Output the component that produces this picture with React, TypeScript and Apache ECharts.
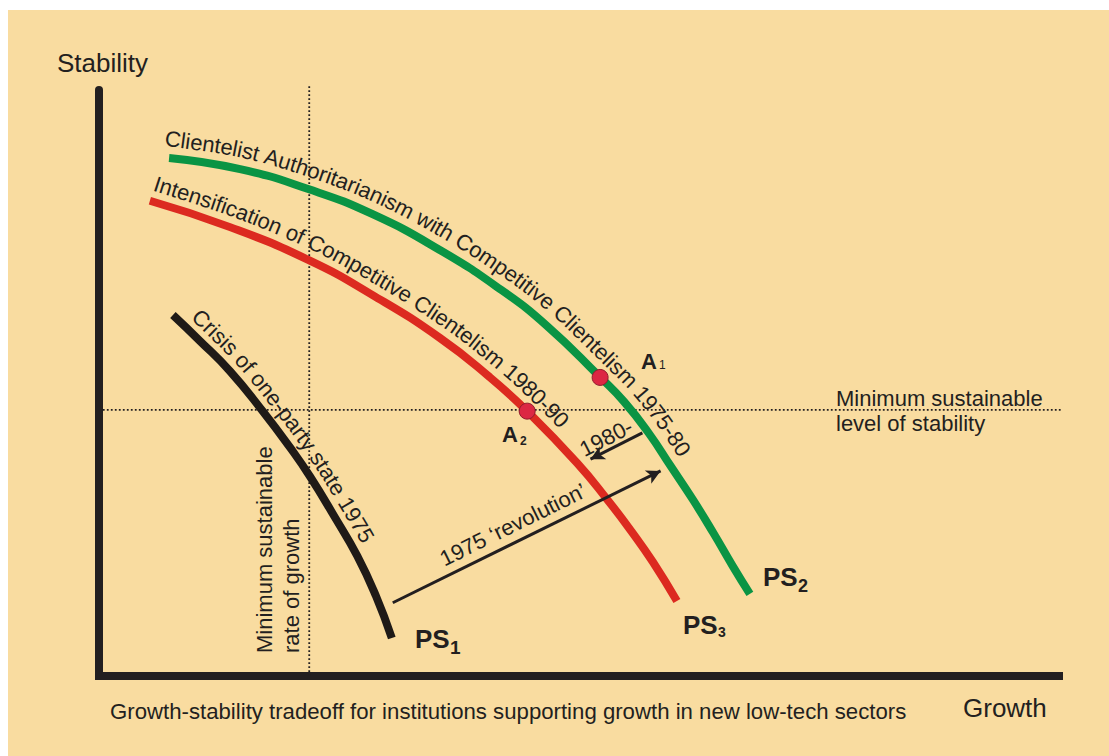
import React, { useEffect, useRef } from "react";
import * as echarts from "echarts";

// ---------- data (axis units: growth 0..100, stability 0..100) ----------
const ps2Curve: number[][] = [
  [7.3, 88.4], [14.7, 86.5], [21.8, 83.1], [28.5, 78.8], [35.5, 72.7], [41.8, 66.0],
  [46.7, 59.7], [52.2, 51.0], [54.7, 46.8], [57.2, 41.6], [59.6, 35.7], [61.9, 30.0],
  [64.0, 24.4], [66.0, 18.8], [67.8, 14.0],
];
const ps3Curve: number[][] = [
  [5.3, 81.1], [13.65, 76.6], [21.8, 71.0], [28.5, 65.0], [35.5, 57.7], [40.7, 51.0],
  [44.6, 45.2], [49.8, 36.35], [53.0, 30.0], [55.5, 24.6], [57.7, 19.45], [60.2, 12.8],
];
const ps1Curve: number[][] = [
  [7.7, 61.6], [10.5, 57.2], [13.65, 52.0], [17.1, 45.1], [19.9, 39.0], [22.0, 34.0],
  [24.6, 27.0], [26.9, 20.5], [28.85, 13.65], [30.5, 6.5],
];
const equilibriumPoints: number[][] = [[52.2, 50.95], [44.6, 45.2]];
const minGrowthRate = 21.9;
const minGrowthSpan = [0, 100.9];
const minStability = 45.4;
const minStabilitySpan = [0.4, 100.9];
const revolutionArrow: number[][] = [[30.6, 12.5], [58.5, 35.0]];
const shiftArrow: number[][] = [[56.6, 41.5], [51.2, 37.0]];

const curveTitles = [
  "Clientelist Authoritarianism with Competitive Clientelism 1975-80",
  "Intensification of Competitive Clientelism 1980-90",
  "Crisis of one-party state 1975",
];
const arrowLabels = ["1975 \u2018revolution\u2019", "1980-"];

// ---------- styles ----------
const INK = "#231f20";
const BG = "#f9dca0";
const GREEN = "#0a9444";
const RED = "#dc2a20";
const BLACK = "#1f1a17";
const FONT = '"Liberation Sans", Arial, Helvetica, sans-serif';

const curveTitleLayout = [
  { offset: 19, start: -7, size: 22 },
  { offset: 18, start: -1, size: 22 },
  { offset: 17, start: 15, size: 22 },
];

function densify(pts: number[][]) {
  const out: number[][] = [];
  const n = pts.length;
  const steps = 24;
  for (let i = 0; i < n - 1; i++) {
    const p0 = pts[Math.max(0, i - 1)];
    const p1 = pts[i];
    const p2 = pts[i + 1];
    const p3 = pts[Math.min(n - 1, i + 2)];
    for (let k = 0; k < steps; k++) {
      const t = k / steps;
      const t2 = t * t;
      const t3 = t2 * t;
      const f = (a: number, b: number, c: number, d: number) =>
        0.5 * (2 * b + (-a + c) * t + (2 * a - 5 * b + 4 * c - d) * t2 + (-a + 3 * b - 3 * c + d) * t3);
      out.push([f(p0[0], p1[0], p2[0], p3[0]), f(p0[1], p1[1], p2[1], p3[1])]);
    }
  }
  out.push(pts[n - 1]);
  return out;
}

function offsetPath(d: number[][], off: number) {
  return d.map((p, i) => {
    const a = d[Math.max(0, i - 1)];
    const b = d[Math.min(d.length - 1, i + 1)];
    const tx = b[0] - a[0];
    const ty = b[1] - a[1];
    const L = Math.hypot(tx, ty) || 1;
    return [p[0] + (ty / L) * off, p[1] - (tx / L) * off];
  });
}

function pointAt(path: number[][], cum: number[], s: number) {
  let i = 0;
  if (s <= 0) i = 0;
  else if (s >= cum[cum.length - 1]) i = path.length - 2;
  else {
    while (i < cum.length - 2 && cum[i + 1] < s) i++;
  }
  const a = path[i];
  const b = path[i + 1];
  const seg = cum[i + 1] - cum[i] || 1;
  const t = (s - cum[i]) / seg;
  return [a[0] + (b[0] - a[0]) * t, a[1] + (b[1] - a[1]) * t];
}

function layoutAlong(ctx: CanvasRenderingContext2D, path: number[][], text: string, start: number, font: string) {
  const cum = [0];
  for (let i = 1; i < path.length; i++) {
    cum.push(cum[i - 1] + Math.hypot(path[i][0] - path[i - 1][0], path[i][1] - path[i - 1][1]));
  }
  ctx.font = font;
  const els: any[] = [];
  let s = start;
  for (const ch of Array.from(text)) {
    const w = ctx.measureText(ch).width;
    const pa = pointAt(path, cum, s);
    const pb = pointAt(path, cum, s + w);
    const pc = pointAt(path, cum, s + w / 2);
    const ang = Math.atan2(pb[1] - pa[1], pb[0] - pa[0]);
    if (ch !== " ") {
      els.push({
        type: "text",
        x: pc[0],
        y: pc[1],
        rotation: -ang,
        z: 50,
        silent: true,
        style: {
          text: ch,
          font,
          fill: INK,
          align: "center",
          verticalAlign: "middle",
          textAlign: "center",
          textVerticalAlign: "middle",
        },
      });
    }
    s += w;
  }
  return els;
}

function txt(text: string, x: number, y: number, size: number, opts: any = {}) {
  return {
    type: "text",
    x,
    y,
    z: 50,
    silent: true,
    rotation: opts.rotation || 0,
    style: {
      text,
      font: `${opts.bold ? "bold " : ""}${size}px ${FONT}`,
      fill: INK,
      align: opts.align || "left",
      verticalAlign: "middle",
      textAlign: opts.align || "left",
      textVerticalAlign: "middle",
    },
  };
}

function buildGraphics(chart: any) {
  const els: any[] = [];
  els.push({
    type: "rect",
    z: -10,
    silent: true,
    shape: { x: 8, y: 10, width: 1101, height: 746 },
    style: { fill: BG },
  });
  const canvas = document.createElement("canvas");
  const ctx = canvas.getContext("2d")!;
  const curves = [ps2Curve, ps3Curve, ps1Curve];
  curveTitles.forEach((title, i) => {
    const lay = curveTitleLayout[i];
    const px = curves[i].map((p) => chart.convertToPixel({ gridIndex: 0 }, p) as number[]);
    const path = offsetPath(densify(px), lay.offset);
    els.push(...layoutAlong(ctx, path, title, lay.start, `${lay.size}px ${FONT}`));
  });

  els.push(txt("Stability", 57, 63, 26));
  els.push(txt("Growth", 963, 708, 26));
  els.push(txt("Growth-stability tradeoff for institutions supporting growth in new low-tech sectors", 110, 711, 22.2));
  els.push(txt("Minimum sustainable", 836, 398, 22));
  els.push(txt("level of stability", 836, 423.5, 22));
  els.push(txt("Minimum sustainable", 264, 653, 22, { rotation: Math.PI / 2 }));
  els.push(txt("rate of growth", 291, 653, 22, { rotation: Math.PI / 2 }));

  els.push(txt("A", 641, 361, 22, { bold: true }));
  els.push(txt("1", 659, 365, 12));
  els.push(txt("A", 502, 434, 22, { bold: true }));
  els.push(txt("2", 520, 441, 12, { bold: true }));
  els.push(txt("PS", 763, 577, 26, { bold: true }));
  els.push(txt("2", 798, 586, 18, { bold: true }));
  els.push(txt("PS", 683, 625, 26, { bold: true }));
  els.push(txt("3", 718, 632, 14, { bold: true }));
  els.push(txt("PS", 415, 639, 26, { bold: true }));
  els.push(txt("1", 450, 647, 19, { bold: true }));
  return els;
}

const dotted = { color: INK, width: 1.8, type: [1.8, 2.2] };

function makeOption() {
  return {
    animation: false,
    backgroundColor: "#ffffff",
    grid: { left: 99, right: 50, top: 90, bottom: 80 },
    xAxis: {
      type: "value",
      min: 0,
      max: 100,
      axisLine: { show: true, onZero: false, lineStyle: { color: INK, width: 8, cap: "square" } },
      axisTick: { show: false },
      axisLabel: { show: false },
      splitLine: { show: false },
    },
    yAxis: {
      type: "value",
      min: 0,
      max: 100,
      axisLine: { show: true, onZero: false, lineStyle: { color: INK, width: 8 } },
      axisTick: { show: false },
      axisLabel: { show: false },
      splitLine: { show: false },
    },
    series: [
      {
        type: "line",
        name: "Minimum sustainable rate of growth",
        data: minGrowthSpan.map((y) => [minGrowthRate, y]),
        symbol: "none",
        clip: false,
        silent: true,
        z: 1,
        lineStyle: dotted,
      },
      {
        type: "line",
        name: "Minimum sustainable level of stability",
        data: minStabilitySpan.map((x) => [x, minStability]),
        symbol: "none",
        clip: false,
        silent: true,
        z: 1,
        lineStyle: dotted,
        markLine: {
          silent: true,
          symbol: ["none", "arrow"],
          symbolSize: [11, 14],
          lineStyle: { color: INK, width: 3, type: "solid" },
          label: {
            show: true,
            position: "insideMiddleTop",
            color: INK,
            fontSize: 22,
            fontFamily: FONT,
          },
          data: [
            [
              { coord: revolutionArrow[0], label: { formatter: arrowLabels[0], distance: 6, padding: [0, 14, 0, 0] } },
              { coord: revolutionArrow[1] },
            ],
            [
              { coord: shiftArrow[0], label: { formatter: arrowLabels[1], distance: 1, padding: [0, 11, 0, 0] } },
              { coord: shiftArrow[1] },
            ],
          ],
        },
      },
      {
        type: "line",
        name: "PS1",
        data: ps1Curve,
        smooth: 0.5,
        symbol: "none",
        silent: true,
        lineStyle: { color: BLACK, width: 8 },
      },
      {
        type: "line",
        name: "PS3",
        data: ps3Curve,
        smooth: 0.5,
        symbol: "none",
        silent: true,
        lineStyle: { color: RED, width: 8 },
      },
      {
        type: "line",
        name: "PS2",
        data: ps2Curve,
        smooth: 0.5,
        symbol: "none",
        silent: true,
        lineStyle: { color: GREEN, width: 8 },
      },
      {
        type: "scatter",
        name: "Equilibria",
        data: equilibriumPoints,
        symbolSize: 16,
        silent: true,
        z: 5,
        itemStyle: { color: "#dc2743", borderColor: "#8f1a2c", borderWidth: 1, opacity: 1 },
      },
    ],
  };
}

export default function App() {
  const ref = useRef<HTMLDivElement>(null);
  useEffect(() => {
    const el = ref.current;
    if (!el) return;
    const chart = echarts.init(el, null, { renderer: "svg" });
    chart.setOption(makeOption() as any);
    chart.setOption({ graphic: { elements: buildGraphics(chart) } } as any);
    return () => chart.dispose();
  }, []);
  return (
    <div
      ref={ref}
      style={{ position: "fixed", left: 0, top: 0, width: 1109, height: 756, background: "#ffffff" }}
    />
  );
}
